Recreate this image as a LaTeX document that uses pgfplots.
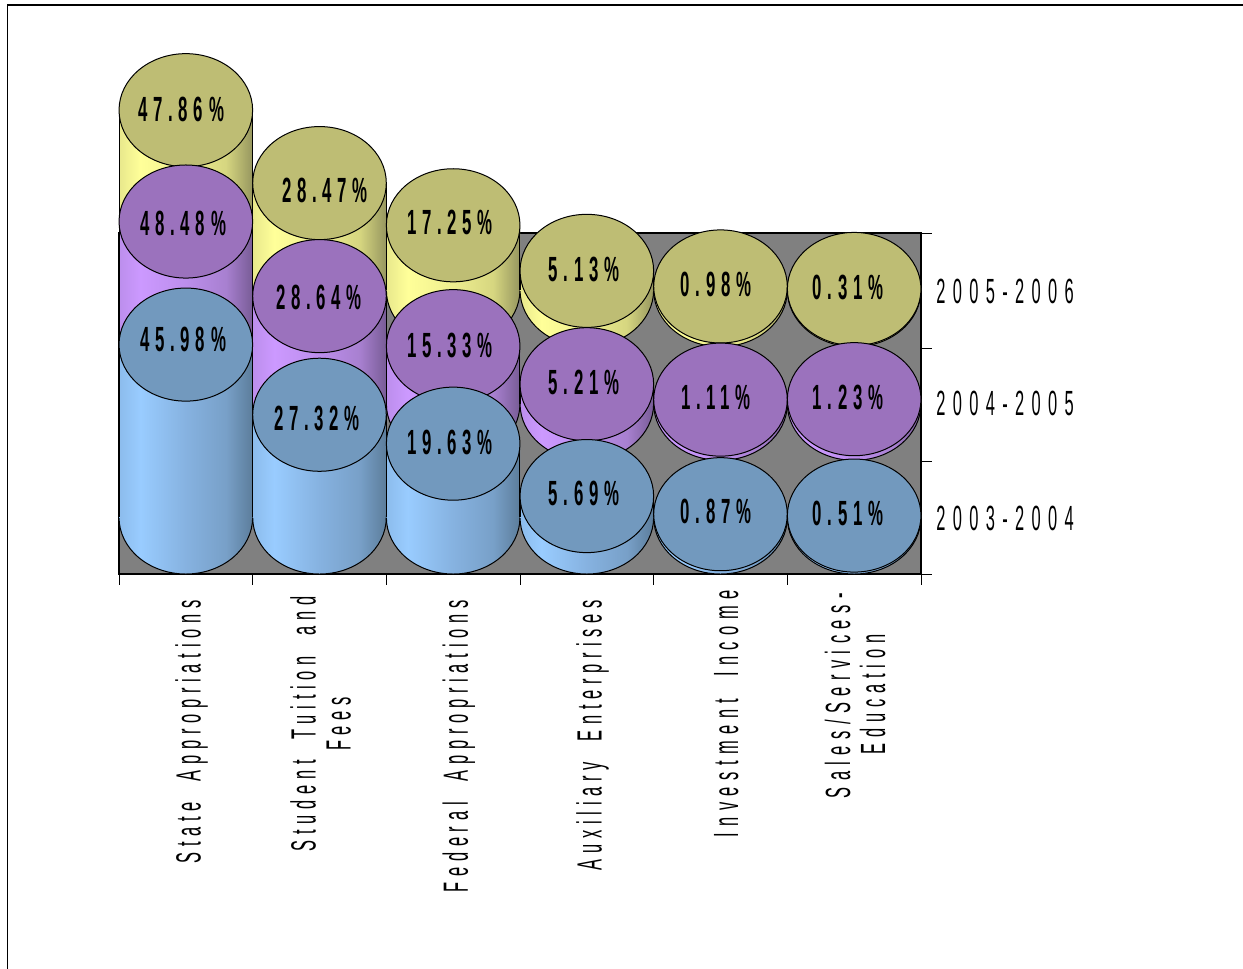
\documentclass[border=0pt]{standalone}
\usepackage{pgfplots}
\usepackage{fontspec}
\pgfplotsset{compat=1.18}
\setmainfont{Liberation Sans}
\newfontfamily\labfam[FakeStretch=0.47,LetterSpace=16.5,WordSpace=2]{Liberation Sans}
\newfontfamily\labwidefam[FakeStretch=0.47,LetterSpace=18.5,WordSpace=2]{Liberation Sans}
\newfontfamily\yrfam[FakeStretch=0.47,LetterSpace=21]{Liberation Sans}
\newfontfamily\valfam[FakeStretch=0.48,LetterSpace=16.5]{Liberation Sans Bold}
\newcommand\labfont{\labfam\fontsize{26.25pt}{26.25pt}\selectfont}
\newcommand\labwide{\labwidefam\fontsize{26.25pt}{26.25pt}\selectfont}
\newcommand\yrfont{\yrfam\fontsize{26.25pt}{26.25pt}\selectfont}
\newcommand\valfont{\valfam\fontsize{26.25pt}{26.25pt}\selectfont}
\newcommand\lft[1]{\raisebox{3.5pt}[\height][\depth]{#1}}
\definecolor{capY}{HTML}{BEBD74}
\definecolor{capP}{HTML}{9B72BD}
\definecolor{capB}{HTML}{7299BE}
\definecolor{wall}{HTML}{808080}
\definecolor{Y0}{RGB}{232,232,140}\definecolor{Y1}{RGB}{255,255,153}\definecolor{Y2}{RGB}{238,238,143}\definecolor{Y3}{RGB}{214,214,128}\definecolor{Y4}{RGB}{150,150,95}
\definecolor{P0}{RGB}{188,142,236}\definecolor{P1}{RGB}{204,153,255}\definecolor{P2}{RGB}{188,142,236}\definecolor{P3}{RGB}{168,128,208}\definecolor{P4}{RGB}{120,92,150}
\definecolor{B0}{RGB}{140,188,236}\definecolor{B1}{RGB}{153,204,255}\definecolor{B2}{RGB}{134,178,224}\definecolor{B3}{RGB}{120,160,200}\definecolor{B4}{RGB}{92,125,155}
\newcommand\defshade[1]{\pgfdeclarehorizontalshading{cyl#1}{100bp}{color(0bp)=(#10); color(25bp)=(#10); color(33bp)=(#11); color(50bp)=(#12); color(65bp)=(#13); color(75bp)=(#14); color(100bp)=(#14)}}
\defshade{Y}\defshade{P}\defshade{B}
\newcommand\defmarks[1]{%
\pgfdeclareplotmark{base#1}{\pgfpathellipse{\pgfpointorigin}{\pgfqpoint{50.1pt}{0pt}}{\pgfqpoint{0pt}{42.4pt}}\pgfshadepath{cyl#1}{0}\pgfsetstrokecolor{black}\pgfsetlinewidth{0.75pt}\pgfusepathqstroke}%
\pgfdeclareplotmark{cap#1}{\pgfpathellipse{\pgfpointorigin}{\pgfqpoint{50.1pt}{0pt}}{\pgfqpoint{0pt}{42.4pt}}\pgfsetfillcolor{cap#1}\pgfsetstrokecolor{black}\pgfsetlinewidth{0.75pt}\pgfusepathqfillstroke}}
\defmarks{Y}\defmarks{P}\defmarks{B}
% \cyl{category}{value}{series shift}{colour key}{label dx}{label dy}
\newcommand\cyl[6]{%
 \addplot[only marks,mark=base#4,yshift=#3] coordinates {(#1,0)};
 \addplot[ybar,bar shift=0pt,bar width=1,draw=none,shading=cyl#4,yshift=#3] coordinates {(#1,#2)};
 \addplot[ycomb,draw=black,line width=0.75pt,no marks,yshift=#3,xshift=-50.1pt] coordinates {(#1,#2)};
 \addplot[ycomb,draw=black,line width=0.75pt,no marks,yshift=#3,xshift=50.1pt] coordinates {(#1,#2)};
 \addplot[only marks,mark=cap#4,yshift=#3,nodes near coords={#2\%},
   every node near coord/.style={anchor=center,font=\valfont,text=black,xshift=#5pt,yshift=#6pt}] coordinates {(#1,#2)};
}
\begin{document}
\begin{tikzpicture}
\path[use as bounding box] (0,0) rectangle (932.25pt,726.75pt);
\draw[black,line width=1.1pt] (5.8pt,-1pt) -- (5.8pt,723pt) -- (934pt,723pt);
\begin{axis}[
  at={(89.25pt,296.25pt)},anchor=south west,
  x=100.25pt,y=2.82pt,
  xmin=-0.5,xmax=5.5,ymin=-15.03,ymax=75.66,
  clip=false,clip mode=individual,
  axis background/.style={fill=wall},
  axis line style={line width=0.8pt,black},
  tick align=outside,
  xtick pos=bottom,ytick pos=right,
  xticklabel pos=bottom,yticklabel pos=right,
  xtick={0,1,2,3,4,5},
  xticklabels={State Appropriations\hspace*{7.5pt},{\lft{Student Tuition and\hspace*{4.5pt}}\\\lft{Fees\hspace*{4.5pt}}},Federal Appropriations\hspace*{7.5pt},Auxiliary Enterprises\hspace*{7.5pt},{\labwide Investment Income},{\labwide \lft{Sales/Services-\hspace*{2.25pt}}\\\lft{Education}}},
  ytick={-0.13,30.2,60.2},
  yticklabels={2003-2004,2004-2005,2005-2006},
  minor xtick={-0.5,0.5,1.5,2.5,3.5,4.5,5.5},
  minor ytick={-15.03,15.02,45.07,75.66},
  major tick length=0pt,
  minor tick length=8pt,
  tick style={black,line width=0.7pt},
  xticklabel style={rotate=90,anchor=east,align=center,font=\labfont,yshift=-4.25pt,xshift=-8.75pt},
  yticklabel style={anchor=west,font=\yrfont,xshift=8pt},
]
\cyl{0}{47.86}{170.5pt}{Y}{-3.6}{0.75}
\cyl{1}{28.47}{170.5pt}{Y}{4.1}{-5.25}
\cyl{2}{17.25}{170.5pt}{Y}{-2.4}{2.25}
\cyl{3}{5.13}{170.5pt}{Y}{-2.1}{0.75}
\cyl{4}{0.98}{170.5pt}{Y}{-3.4}{1.5}
\cyl{5}{0.31}{170.5pt}{Y}{-4.6}{0.75}
\cyl{0}{48.48}{85.25pt}{P}{-2.1}{-1.5}
\cyl{1}{28.64}{85.25pt}{P}{-0.4}{-0.75}
\cyl{2}{15.33}{85.25pt}{P}{-2.4}{0.75}
\cyl{3}{5.21}{85.25pt}{P}{-2.1}{1.5}
\cyl{4}{1.11}{85.25pt}{P}{-3.4}{1.5}
\cyl{5}{1.23}{85.25pt}{P}{-4.6}{1.5}
\cyl{0}{45.98}{0pt}{B}{-2.1}{3.75}
\cyl{1}{27.32}{0pt}{B}{-1.9}{-3}
\cyl{2}{19.63}{0pt}{B}{-2.4}{0.75}
\cyl{3}{5.69}{0pt}{B}{-2.1}{2.25}
\cyl{4}{0.87}{0pt}{B}{-3.4}{2.25}
\cyl{5}{0.51}{0pt}{B}{-4.6}{1.5}
\end{axis}
\end{tikzpicture}
\end{document}
